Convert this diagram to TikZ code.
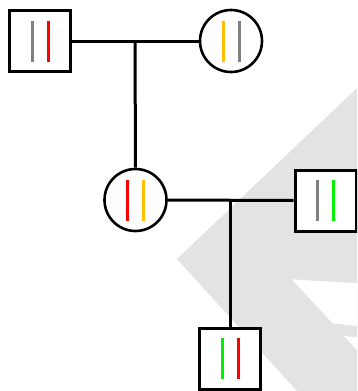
\documentclass[tikz,border=0pt]{standalone}
\usetikzlibrary{calc}
\definecolor{wm}{RGB}{227,227,227}
\definecolor{barred}{RGB}{255,0,0}
\definecolor{barorange}{RGB}{255,192,0}
\definecolor{bargreen}{RGB}{0,240,0}
\definecolor{bargray}{RGB}{128,128,128}
\newcommand\genebars[3]{%
  \draw[genebar,#2] ($(#1.center)+(-8,-20.5)$) -- ++(0,41);
  \draw[genebar,#3] ($(#1.center)+(8,-20.5)$) -- ++(0,41);
}
\begin{document}
\begin{tikzpicture}[x=1pt,y=-1pt,
  male/.style={draw=black,fill=white,line width=3pt,minimum size=61pt,inner sep=0pt,rectangle},
  female/.style={draw=black,fill=white,line width=2.6pt,minimum size=62pt,inner sep=0pt,circle},
  link/.style={draw=black,line width=3pt},
  genebar/.style={line width=3pt}]
\useasboundingbox (0,0) rectangle (357,391);
\clip (0,0) rectangle (357,391);
% watermark
\fill[wm] (357,88) -- (177,259) -- (297,391) -- (357,391) -- cycle;
\fill[white] (291.7,279.3) -- (357,283.3) -- (357,326) -- (332.7,323.3) -- cycle;
\fill[white] (344,336) -- (357,337.3) -- (357,350) -- cycle;
% nodes
\node[male] (gf) at (40,41) {};
\node[female] (gm) at (231,41) {};
\node[female] (mo) at (135.5,200) {};
\node[male] (fa) at (325.5,200.5) {};
\node[male] (ch) at (230,358.5) {};
% connectors
\coordinate (j1) at (135,41);
\coordinate (j2) at (230,200.5);
\draw[link] (gf.east) -- (gm.west);
\draw[link] (j1) -- (mo.north);
\draw[link] (mo.east) -- (fa.west);
\draw[link] (j2) -- (ch.north);
% bars
\genebars{gf}{bargray}{barred}
\genebars{gm}{barorange}{bargray}
\genebars{mo}{barred}{barorange}
\genebars{fa}{bargray}{bargreen}
\genebars{ch}{bargreen}{barred}
\end{tikzpicture}
\end{document}
